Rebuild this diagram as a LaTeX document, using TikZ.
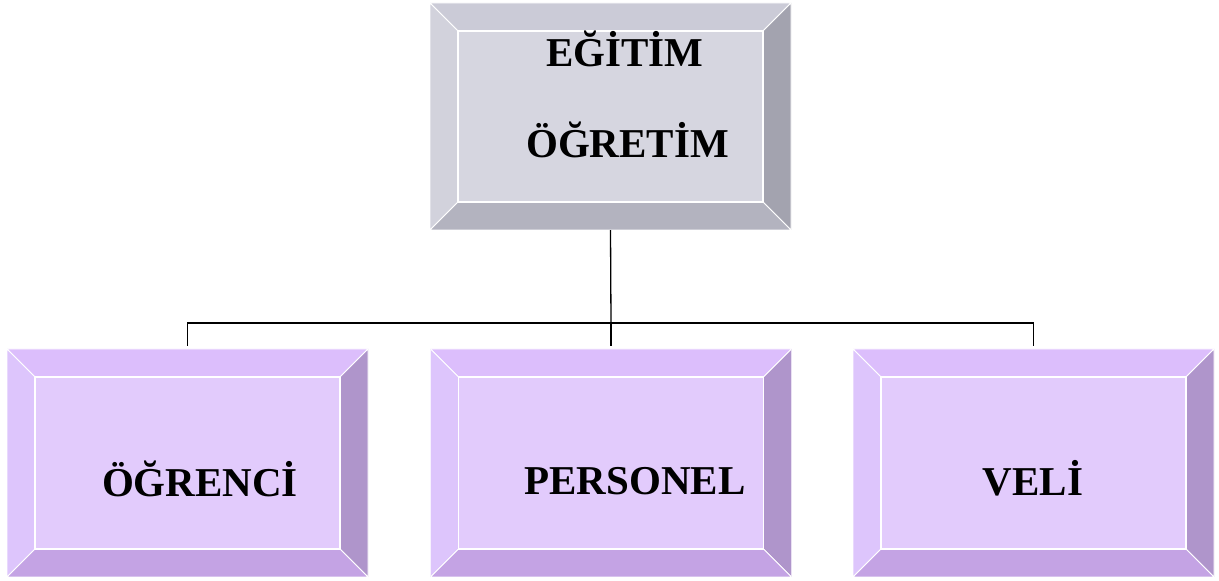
\documentclass[tikz,border=0pt]{standalone}
\usepackage{fontspec}
\setmainfont{Liberation Serif}
\definecolor{gIn}{HTML}{D6D6E0}
\definecolor{gTop}{HTML}{CBCBD7}
\definecolor{gLeft}{HTML}{D2D2DC}
\definecolor{gRight}{HTML}{A3A3AF}
\definecolor{gBot}{HTML}{B3B3BF}
\definecolor{pIn}{HTML}{E2CBFC}
\definecolor{pTop}{HTML}{DCBEFC}
\definecolor{pLeft}{HTML}{DDC5FC}
\definecolor{pRight}{HTML}{AF95CB}
\definecolor{pBot}{HTML}{C4A3E4}
\tikzset{
  bevelbox/.style n args={5}{
    rectangle, inner sep=0pt, minimum width=361pt, minimum height=228pt,
    fill=#1,
    path picture={
      \coordinate (NW) at (path picture bounding box.north west);
      \coordinate (NE) at (path picture bounding box.north east);
      \coordinate (SW) at (path picture bounding box.south west);
      \coordinate (SE) at (path picture bounding box.south east);
      \coordinate (nw) at ([shift={(28pt,-28pt)}]NW);
      \coordinate (ne) at ([shift={(-28pt,-28pt)}]NE);
      \coordinate (sw) at ([shift={(28pt,28pt)}]SW);
      \coordinate (se) at ([shift={(-28pt,28pt)}]SE);
      \filldraw[fill=#2, draw=white, line width=0.9pt] (NW) -- (NE) -- (ne) -- (nw) -- cycle;
      \filldraw[fill=#3, draw=white, line width=0.9pt] (NW) -- (nw) -- (sw) -- (SW) -- cycle;
      \filldraw[fill=#4, draw=white, line width=0.9pt] (NE) -- (SE) -- (se) -- (ne) -- cycle;
      \filldraw[fill=#5, draw=white, line width=0.9pt] (SW) -- (sw) -- (se) -- (SE) -- cycle;
      \draw[white, line width=1.2pt] (nw) rectangle (se);
    }
  },
  graybox/.style={bevelbox={gIn}{gTop}{gLeft}{gRight}{gBot}},
  purplebox/.style={bevelbox={pIn}{pTop}{pLeft}{pRight}{pBot}},
  lbl/.style={anchor=base, inner sep=0pt, font=\bfseries\fontsize{41}{48}\selectfont},
  conn/.style={draw=black, line width=1.3pt}
}
\begin{document}
\begin{tikzpicture}[x=1pt,y=1pt]
\useasboundingbox (0,0) rectangle (1219,581);
\node[graybox, minimum height=227pt] (top) at (610.5,464.5) {};
\node[purplebox] (b1) at (187.5,118) {};
\node[purplebox] (b2) at (611,118) {};
\node[purplebox] (b3) at (1033.5,118) {};
\node[lbl] (t1) at (625,514) {EĞİTİM};
\node[lbl] (t2) at (627.5,423) {ÖĞRETİM};
\node[lbl] (l1) at (200,84) {ÖĞRENCİ};
\node[lbl] (l2) at (635,86) {PERSONEL};
\node[lbl] (l3) at (1033,85) {VELİ};
\coordinate (j) at (611,258);
\draw[conn] (top.south) -- (j);
\draw[conn, shorten >=3pt] (j) -- (b2.north);
\draw[conn, shorten <=3pt, shorten >=3pt] (b1.north) |- (j) -| (b3.north);
\end{tikzpicture}
\end{document}
